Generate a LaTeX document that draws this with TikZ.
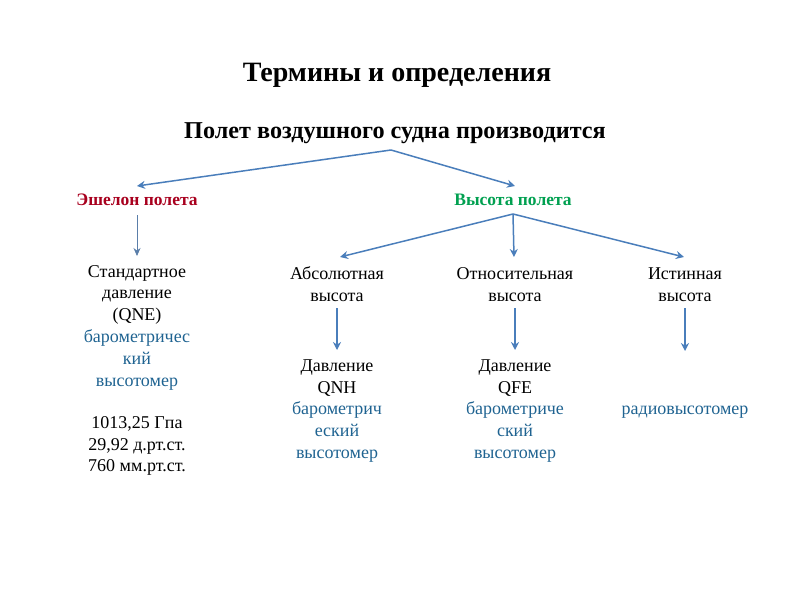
\documentclass[tikz,border=0pt]{standalone}
\usepackage{fontspec}
\setmainfont{Liberation Serif}
\usetikzlibrary{arrows.meta}
\definecolor{arr}{HTML}{4A7EBB}
\definecolor{redt}{HTML}{A8001E}
\definecolor{greent}{HTML}{00A050}
\definecolor{bluet}{HTML}{1F6391}
\tikzset{
  conn/.style={draw=arr, line width=1.5pt, -{Stealth[length=8pt,width=8pt]}},
  thinconn/.style={draw=arr!70!gray, line width=0.8pt, -{Stealth[length=8pt,width=7pt]}},
  body/.style={font=\fontsize{18}{21.8}\selectfont, align=center, inner sep=0pt},
  head/.style={font=\fontsize{17.5}{20}\selectfont\bfseries, inner sep=0pt},
}
\begin{document}
\begin{tikzpicture}[x=1pt,y=-1pt]
\useasboundingbox (0,0) rectangle (794,595);
\node[font=\fontsize{28}{32}\selectfont\bfseries, inner sep=0pt] (title) at (397,75) {Термины и определения};
\node[font=\fontsize{24.2}{28}\selectfont\bfseries, inner sep=0pt] (sub) at (395,133) {Полет воздушного судна производится};
\coordinate (subb) at (391,150);
\node[head, text=redt] (esh) at (137,200) {Эшелон полета};
\node[head, text=greent] (vys) at (513,200) {Высота полета};
\coordinate (esht) at (137,186);
\coordinate (vyst) at (515,186);
\draw[conn] (subb) -- (esht);
\draw[conn] (subb) -- (vyst);
\coordinate (vysb) at (513,214);
\coordinate (eshb) at (137,215);

\node[body] (std) at (137,327.5) {Стандартное\\давление\\(QNE)\\\textcolor{bluet}{барометричес}\\\textcolor{bluet}{кий}\\\textcolor{bluet}{высотомер}};
\node[body] (vals) at (137,446) {1013,25 Гпа\\29,92 д.рт.ст.\\760 мм.рт.ст.};
\draw[thinconn] (eshb) -- (137,256);

\node[body] (abs) at (337,284.5) {Абсолютная\\высота};
\node[body] (otn) at (515,284.5) {Относительная\\высота};
\node[body] (ist) at (685,284.5) {Истинная\\высота};
\draw[conn] (vysb) -- (340,257);
\draw[conn] (vysb) -- (514,257);
\draw[conn] (vysb) -- (684,257);

\node[body] (qnh) at (337,411) {Давление\\QNH\\\textcolor{bluet}{барометрич}\\\textcolor{bluet}{еский}\\\textcolor{bluet}{высотомер}};
\node[body] (qfe) at (515,411) {Давление\\QFE\\\textcolor{bluet}{барометриче}\\\textcolor{bluet}{ский}\\\textcolor{bluet}{высотомер}};
\node[body, text=bluet] (radio) at (685,412) {радиовысотомер};
\draw[conn] (abs.south |- 0,308) -- (abs.south |- 0,350);
\draw[conn] (otn.south |- 0,308) -- (otn.south |- 0,350);
\draw[conn] (ist.south |- 0,308) -- (ist.south |- 0,351);
\end{tikzpicture}
\end{document}
